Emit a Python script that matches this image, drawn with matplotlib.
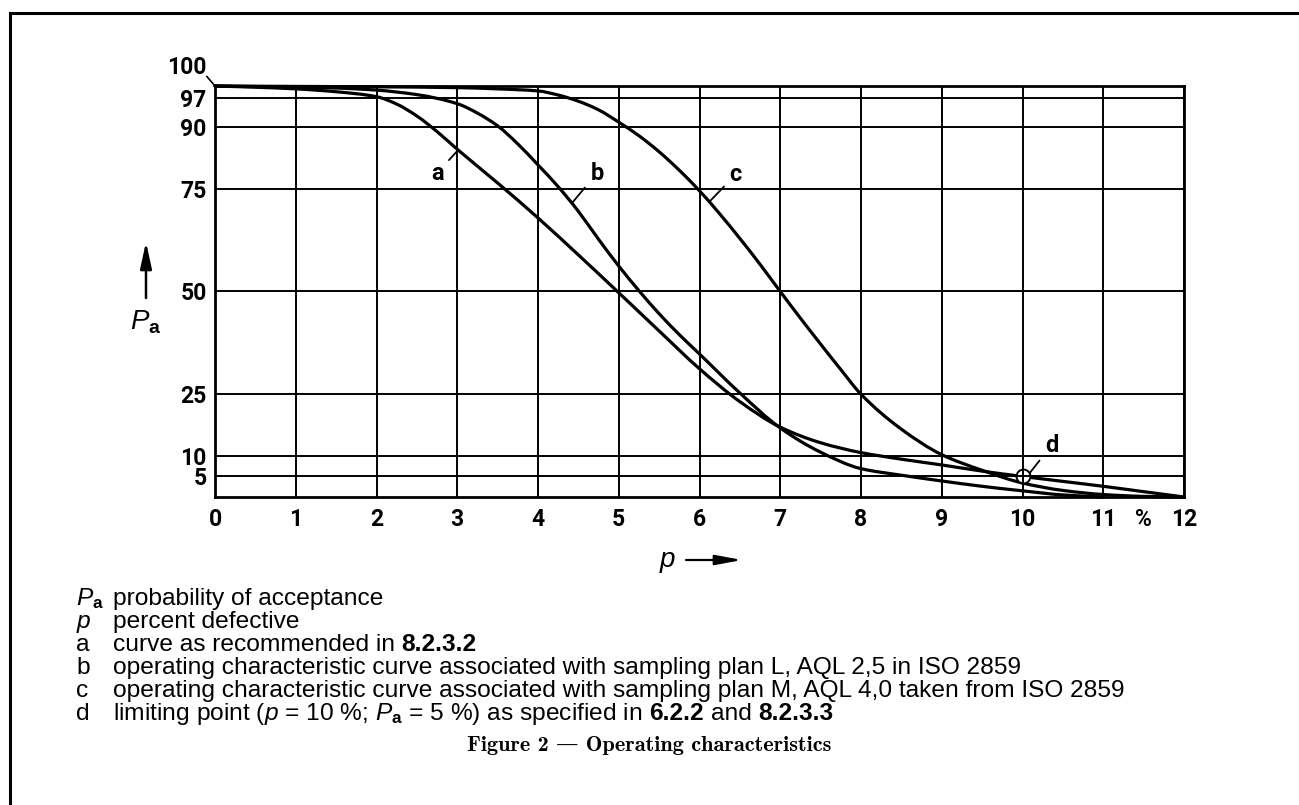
import matplotlib
matplotlib.use("Agg")
import numpy as np
import matplotlib.pyplot as plt
from matplotlib.lines import Line2D
from matplotlib.path import Path
from matplotlib.patches import PathPatch

# ---------------- data ----------------
p_a = [0, 0.5, 1, 1.5, 2, 2.25, 2.5, 2.75, 3, 3.5, 4, 4.5, 5, 5.5, 6, 6.5, 7,
       7.5, 8, 8.5, 9, 9.5, 10, 10.5, 11, 11.5, 12]
pa_a = [100, 99.7, 99.3, 98.6, 97.4, 95.6, 92.7, 88.9, 84.6, 76.4, 67.9, 58.9,
        49.7, 40.4, 31.2, 23.2, 17.0, 13.2, 10.8, 9.2, 7.8, 6.3, 5.0, 3.8, 2.6,
        1.3, 0]

p_b = [0, 1, 1.5, 2, 2.5, 3, 3.25, 3.5, 3.75, 4, 4.25, 4.5, 4.75, 5, 5.25, 5.5,
       5.75, 6, 6.5, 7, 7.5, 8, 8.5, 9, 9.5, 10, 10.5, 11]
pa_b = [100, 99.7, 99.5, 99.0, 97.9, 95.7, 93.4, 90.3, 85.9, 80.8, 75.5, 69.5,
        62.7, 56.2, 50.2, 44.6, 39.5, 34.8, 25.3, 16.8, 10.9, 6.9, 5.3, 3.9,
        2.6, 1.5, 0.5, 0]

p_c = [0, 1, 2, 3, 3.5, 4, 4.25, 4.5, 4.75, 5, 5.25, 5.5, 5.75, 6, 6.25, 6.5,
       6.75, 7, 7.25, 7.5, 7.75, 8, 8.5, 9, 9.5, 10, 10.5, 11, 11.5, 12]
pa_c = [100, 99.9, 99.8, 99.6, 99.3, 98.8, 97.8, 96.3, 94.2, 91.2, 87.9, 84.0,
        79.5, 74.5, 68.9, 62.9, 56.6, 50.0, 43.5, 37.2, 31.0, 25.0, 16.5, 10.3,
        6.5, 3.4, 1.6, 0.6, 0.15, 0]

limit_p, limit_pa = 10, 5

x_ticks = list(range(0, 13))
x_labels = [str(v) for v in x_ticks]
y_ticks = [5, 10, 25, 50, 75, 90, 97]
y_labels = [str(v) for v in y_ticks]
y_top_label = "100"

curve_names = ["a", "b", "c"]
legend_rows = [
    ("Pa", [("probability of acceptance", "n")]),
    ("p", [("percent defective", "n")]),
    ("a", [("curve as recommended in", "n"), ("8.2.3.2", "b")]),
    ("b", [("operating characteristic curve associated with sampling plan L, AQL 2,5 in ISO 2859", "n")]),
    ("c", [("operating characteristic curve associated with sampling plan M, AQL 4,0 taken from ISO 2859", "n")]),
    ("d", [(r"limiting point ($p$ = 10 %; $P_\mathbf{a}$ = 5 %) as specified in", "n"),
           ("6.2.2", "b"), ("and", "n"), ("8.2.3.3", "b")]),
]
title = "Figure 2 \u2014 Operating characteristics"

# ---------------- styling ----------------
plt.rcParams["mathtext.fontset"] = "custom"
plt.rcParams["mathtext.rm"] = "Liberation Sans"
plt.rcParams["mathtext.it"] = "Liberation Sans:italic"
plt.rcParams["mathtext.bf"] = "Liberation Sans:bold"
plt.rcParams["font.family"] = ["Liberation Sans", "DejaVu Sans"]

W, H = 1299, 805
fig = plt.figure(figsize=(W / 100, H / 100), dpi=100)
ax = fig.add_axes([215 / W, 1 - 497 / H, 969 / W, 411 / H])
ax.set_xlim(0, 12)
ax.set_ylim(0, 100)

tick_font = dict(family=["Roboto", "DejaVu Sans"], fontweight="bold",
                 fontsize=16.5)
ax.set_xticks(x_ticks, labels=x_labels, **tick_font)
ax.set_xticks([11.5], labels=["%"], minor=True, **tick_font)
ax.set_yticks(y_ticks, labels=y_labels, **tick_font)
ax.tick_params(which="both", length=0)
ax.tick_params(axis="x", which="both", pad=8)
ax.tick_params(axis="y", pad=6)
ax.grid(which="major", color="black", lw=1.4)
for s in ax.spines.values():
    s.set_linewidth(2.0)


def smooth_path(xs, ys):
    """Monotone cubic (Fritsch-Carlson) through the read points, as Bezier path."""
    x = np.asarray(xs, float)
    y = np.asarray(ys, float)
    h = np.diff(x)
    d = np.diff(y) / h
    n = len(x)
    m = np.zeros(n)
    m[0], m[-1] = d[0], d[-1]
    for k in range(1, n - 1):
        if d[k - 1] * d[k] <= 0:
            m[k] = 0.0
        else:
            w1 = 2 * h[k] + h[k - 1]
            w2 = h[k] + 2 * h[k - 1]
            m[k] = (w1 + w2) / (w1 / d[k - 1] + w2 / d[k])
    verts = [(x[0], y[0])]
    codes = [Path.MOVETO]
    for k in range(n - 1):
        verts += [(x[k] + h[k] / 3, y[k] + m[k] * h[k] / 3),
                  (x[k + 1] - h[k] / 3, y[k + 1] - m[k + 1] * h[k] / 3),
                  (x[k + 1], y[k + 1])]
        codes += [Path.CURVE4] * 3
    return Path(verts, codes)


for (px, py) in [(p_a, pa_a), (p_b, pa_b), (p_c, pa_c)]:
    ax.add_patch(PathPatch(smooth_path(px, py), fill=False, edgecolor="black",
                           lw=2.3, joinstyle="round", capstyle="round",
                           zorder=3, clip_on=False))

# curve labels with leaders
label_spec = {
    "a": ((3.01, 84.4), (2.75, 78.8)),
    "b": ((4.42, 71.5), (4.73, 78.8)),
    "c": ((6.12, 71.8), (6.45, 78.5)),
}
lab_font = dict(family=["Roboto", "DejaVu Sans"], fontweight="bold",
                fontsize=17)
for name in curve_names:
    xy, xyt = label_spec[name]
    ax.annotate(name, xy=xy, xytext=xyt, ha="center", va="center",
                arrowprops=dict(arrowstyle="-", lw=1.3, color="black",
                                shrinkA=3, shrinkB=0), **lab_font)

# limiting point d
ax.plot([limit_p], [limit_pa], marker="o", ms=10, mfc="white", mec="black",
        mew=1.4, zorder=5)
ax.plot([limit_p], [limit_pa], marker="+", ms=10, color="black", mew=1.4,
        zorder=6)
ax.annotate("d", xy=(limit_p + 0.08, limit_pa + 0.6), xytext=(10.36, 12.6),
            ha="center", va="center",
            arrowprops=dict(arrowstyle="-", lw=1.3, color="black",
                            shrinkA=3, shrinkB=0), **lab_font)

# "100" label with tiny leader
ax.text(-0.1, 104.6, y_top_label, ha="right", va="center", clip_on=False,
        **tick_font)
ax.plot([-0.1, 0], [102.3, 100], color="black", lw=1.2, clip_on=False)

# axis titles with arrows
fig.text(146 / W, 1 - 322 / H, r"$P_\mathbf{a}$", fontsize=20,
         ha="center", va="center")
ax.annotate("", xy=(146, H - 242), xytext=(146, H - 298),
            xycoords="figure pixels", textcoords="figure pixels",
            arrowprops=dict(arrowstyle="-|>,head_length=1.6,head_width=0.35",
                            lw=1.8, color="black", shrinkA=0, shrinkB=0))
fig.text(668 / W, 1 - 562 / H, r"$p$", fontsize=20, ha="center", va="center")
ax.annotate("", xy=(742, H - 560), xytext=(686, H - 560),
            xycoords="figure pixels", textcoords="figure pixels",
            arrowprops=dict(arrowstyle="-|>,head_length=1.6,head_width=0.3",
                            lw=1.6, color="black", shrinkA=0, shrinkB=0))

# frame of the figure
fig.add_artist(Line2D([10 / W, 10 / W], [0, 1 - 13 / H], transform=fig.transFigure,
                      color="black", lw=2.2))
fig.add_artist(Line2D([10 / W, 1], [1 - 13 / H, 1 - 13 / H],
                      transform=fig.transFigure, color="black", lw=2.2))

# ---------------- key below the chart ----------------
renderer = fig.canvas.get_renderer()


def width_of(s, **kw):
    t = fig.text(0, 0, s, **kw)
    w = t.get_window_extent(renderer).width
    t.remove()
    return w


base = 14.0
longest = legend_rows[4][1][0][0]
wl = width_of(longest, fontsize=base)
leg_size = base * (1133 - 113) / wl
space = width_of("a a", fontsize=leg_size) - width_of("aa", fontsize=leg_size)

row_y = [605, 628, 651, 674, 697, 720]
sym_map = {"Pa": r"$P_\mathbf{a}$", "p": r"$p$"}
for (sym, segs), yy in zip(legend_rows, row_y):
    fy = 1 - yy / H
    fig.text(76 / W, fy, sym_map.get(sym, sym), fontsize=leg_size,
             ha="left", va="baseline")
    x = 113.0
    for s, style in segs:
        kw = dict(fontsize=leg_size, ha="left", va="baseline")
        if style == "b":
            kw["fontweight"] = "bold"
        t = fig.text(x / W, fy, s, **kw)
        x += t.get_window_extent(renderer).width + space

fig.text(0.5, 1 - 751 / H, title, family=["cmb10", "DejaVu Serif"],
         fontsize=16, ha="center", va="baseline")

fig.savefig("out.png", dpi=100)
